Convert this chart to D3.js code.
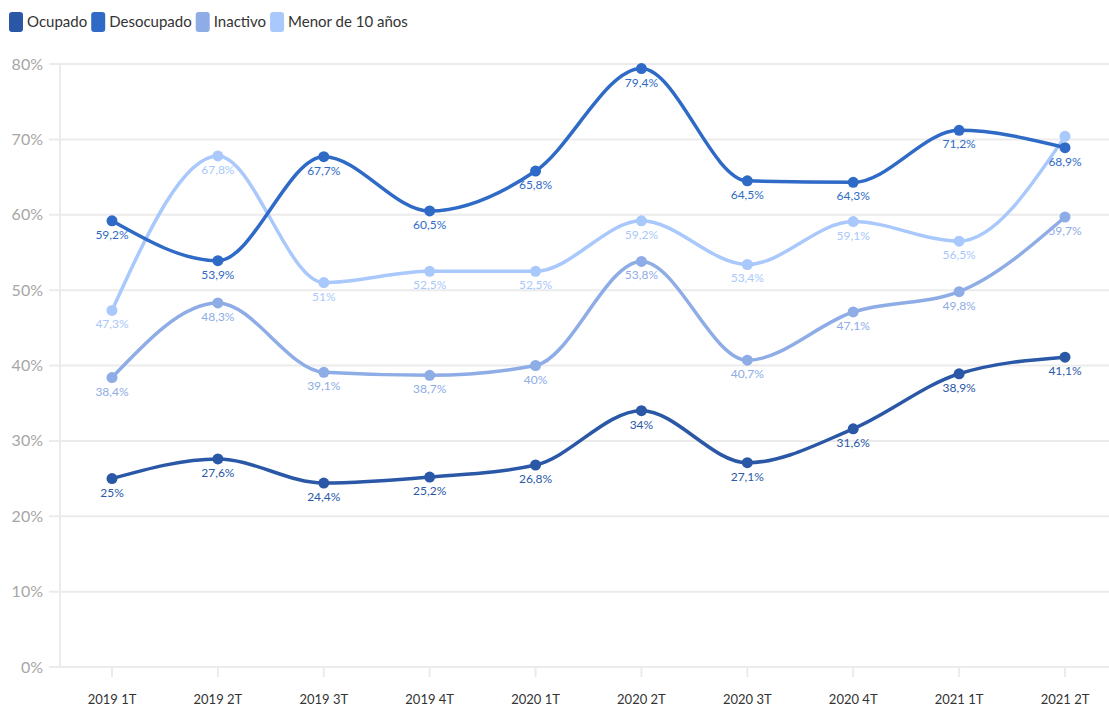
<!DOCTYPE html>
<html><head><meta charset="utf-8">
<script src="https://cdn.jsdelivr.net/npm/d3@7"></script>
<style>body{margin:0;background:#fff;}svg{display:block;font-family:Lato,"Open Sans",sans-serif;}</style>
</head><body><svg id="c" width="1109" height="709"></svg>
<script>
const categories = ["2019 1T","2019 2T","2019 3T","2019 4T","2020 1T","2020 2T","2020 3T","2020 4T","2021 1T","2021 2T"];
const seriesNames = ["Ocupado","Desocupado","Inactivo","Menor de 10 años"];
const ocupado = [25,27.6,24.4,25.2,26.8,34,27.1,31.6,38.9,41.1];
const desocupado = [59.2,53.9,67.7,60.5,65.8,79.4,64.5,64.3,71.2,68.9];
const inactivo = [38.4,48.3,39.1,38.7,40,53.8,40.7,47.1,49.8,59.7];
const menor10 = [47.3,67.8,51,52.5,52.5,59.2,53.4,59.1,56.5,70.4];
const hiddenLabels = [[3,9]]; // series index, point index (label not shown in reference)
const yTicks = [0,10,20,30,40,50,60,70,80];

const colors = ["#2a58a6","#2e6ac6","#8eace6","#a9c8fb"];
const labelColors = ["#2a58a6","#2e6ac6","#8eace6","#a9c8fb"];
const data = [ocupado,desocupado,inactivo,menor10];

const svg = d3.select("#c");
const x = d3.scalePoint().domain(categories).range([112,1065]);
const y = d3.scaleLinear().domain([0,80]).range([667,64]);

// grid
svg.append("g").selectAll("line").data(yTicks).join("line")
  .attr("x1",49).attr("x2",1109).attr("y1",d=>y(d)).attr("y2",d=>y(d))
  .attr("stroke","#ebebeb").attr("stroke-width",2);
svg.append("line").attr("x1",60).attr("x2",60).attr("y1",y(80)).attr("y2",y(0))
  .attr("stroke","#ebebeb").attr("stroke-width",2);

// y labels
svg.append("g").selectAll("text").data(yTicks).join("text")
  .attr("x",43).attr("y",d=>y(d)).attr("dy","0.35em").attr("text-anchor","end")
  .attr("fill","#a6a6a6").attr("font-size",16).text(d=>d+"%");

// x axis ticks and labels
const xa = svg.append("g");
xa.selectAll("line").data(categories).join("line")
  .attr("x1",d=>x(d)).attr("x2",d=>x(d)).attr("y1",668).attr("y2",677)
  .attr("stroke","#ebebeb").attr("stroke-width",2);
xa.selectAll("text").data(categories).join("text")
  .attr("x",d=>x(d)).attr("y",704).attr("text-anchor","middle")
  .attr("fill","#333").attr("font-size",13).text(d=>d);

const line = d3.line().x((d,i)=>x(categories[i])).y(d=>y(d)).curve(d3.curveMonotoneX);
const fmt = v => String(v).replace(".",",")+"%";

const order = [3,2,1,0];
order.forEach(s=>{
  const g = svg.append("g");
  g.append("path").attr("d",line(data[s])).attr("fill","none")
    .attr("stroke",colors[s]).attr("stroke-width",3.5).attr("stroke-linecap","round");
  g.selectAll("circle").data(data[s]).join("circle")
    .attr("cx",(d,i)=>x(categories[i])).attr("cy",d=>y(d)).attr("r",5.5).attr("fill",colors[s]);
});
order.forEach(s=>{
  svg.append("g").selectAll("text").data(data[s]).join("text")
    .filter((d,i)=>!hiddenLabels.some(h=>h[0]===s&&h[1]===i))
    .attr("x",(d,i)=>x(categories[i])).attr("y",d=>y(d)+18).attr("text-anchor","middle")
    .attr("fill",labelColors[s]).attr("font-size",12).text(d=>fmt(d));
});

// legend
const leg = svg.append("g");
let lx = 9;
seriesNames.forEach((n,i)=>{
  leg.append("rect").attr("x",lx).attr("y",12).attr("width",14).attr("height",20).attr("rx",3).attr("fill",colors[i]);
  const t = leg.append("text").attr("x",lx+18).attr("y",27).attr("font-size",15).attr("fill","#333").text(n);
  lx += 18 + t.node().getComputedTextLength() + 4;
});
</script></body></html>
